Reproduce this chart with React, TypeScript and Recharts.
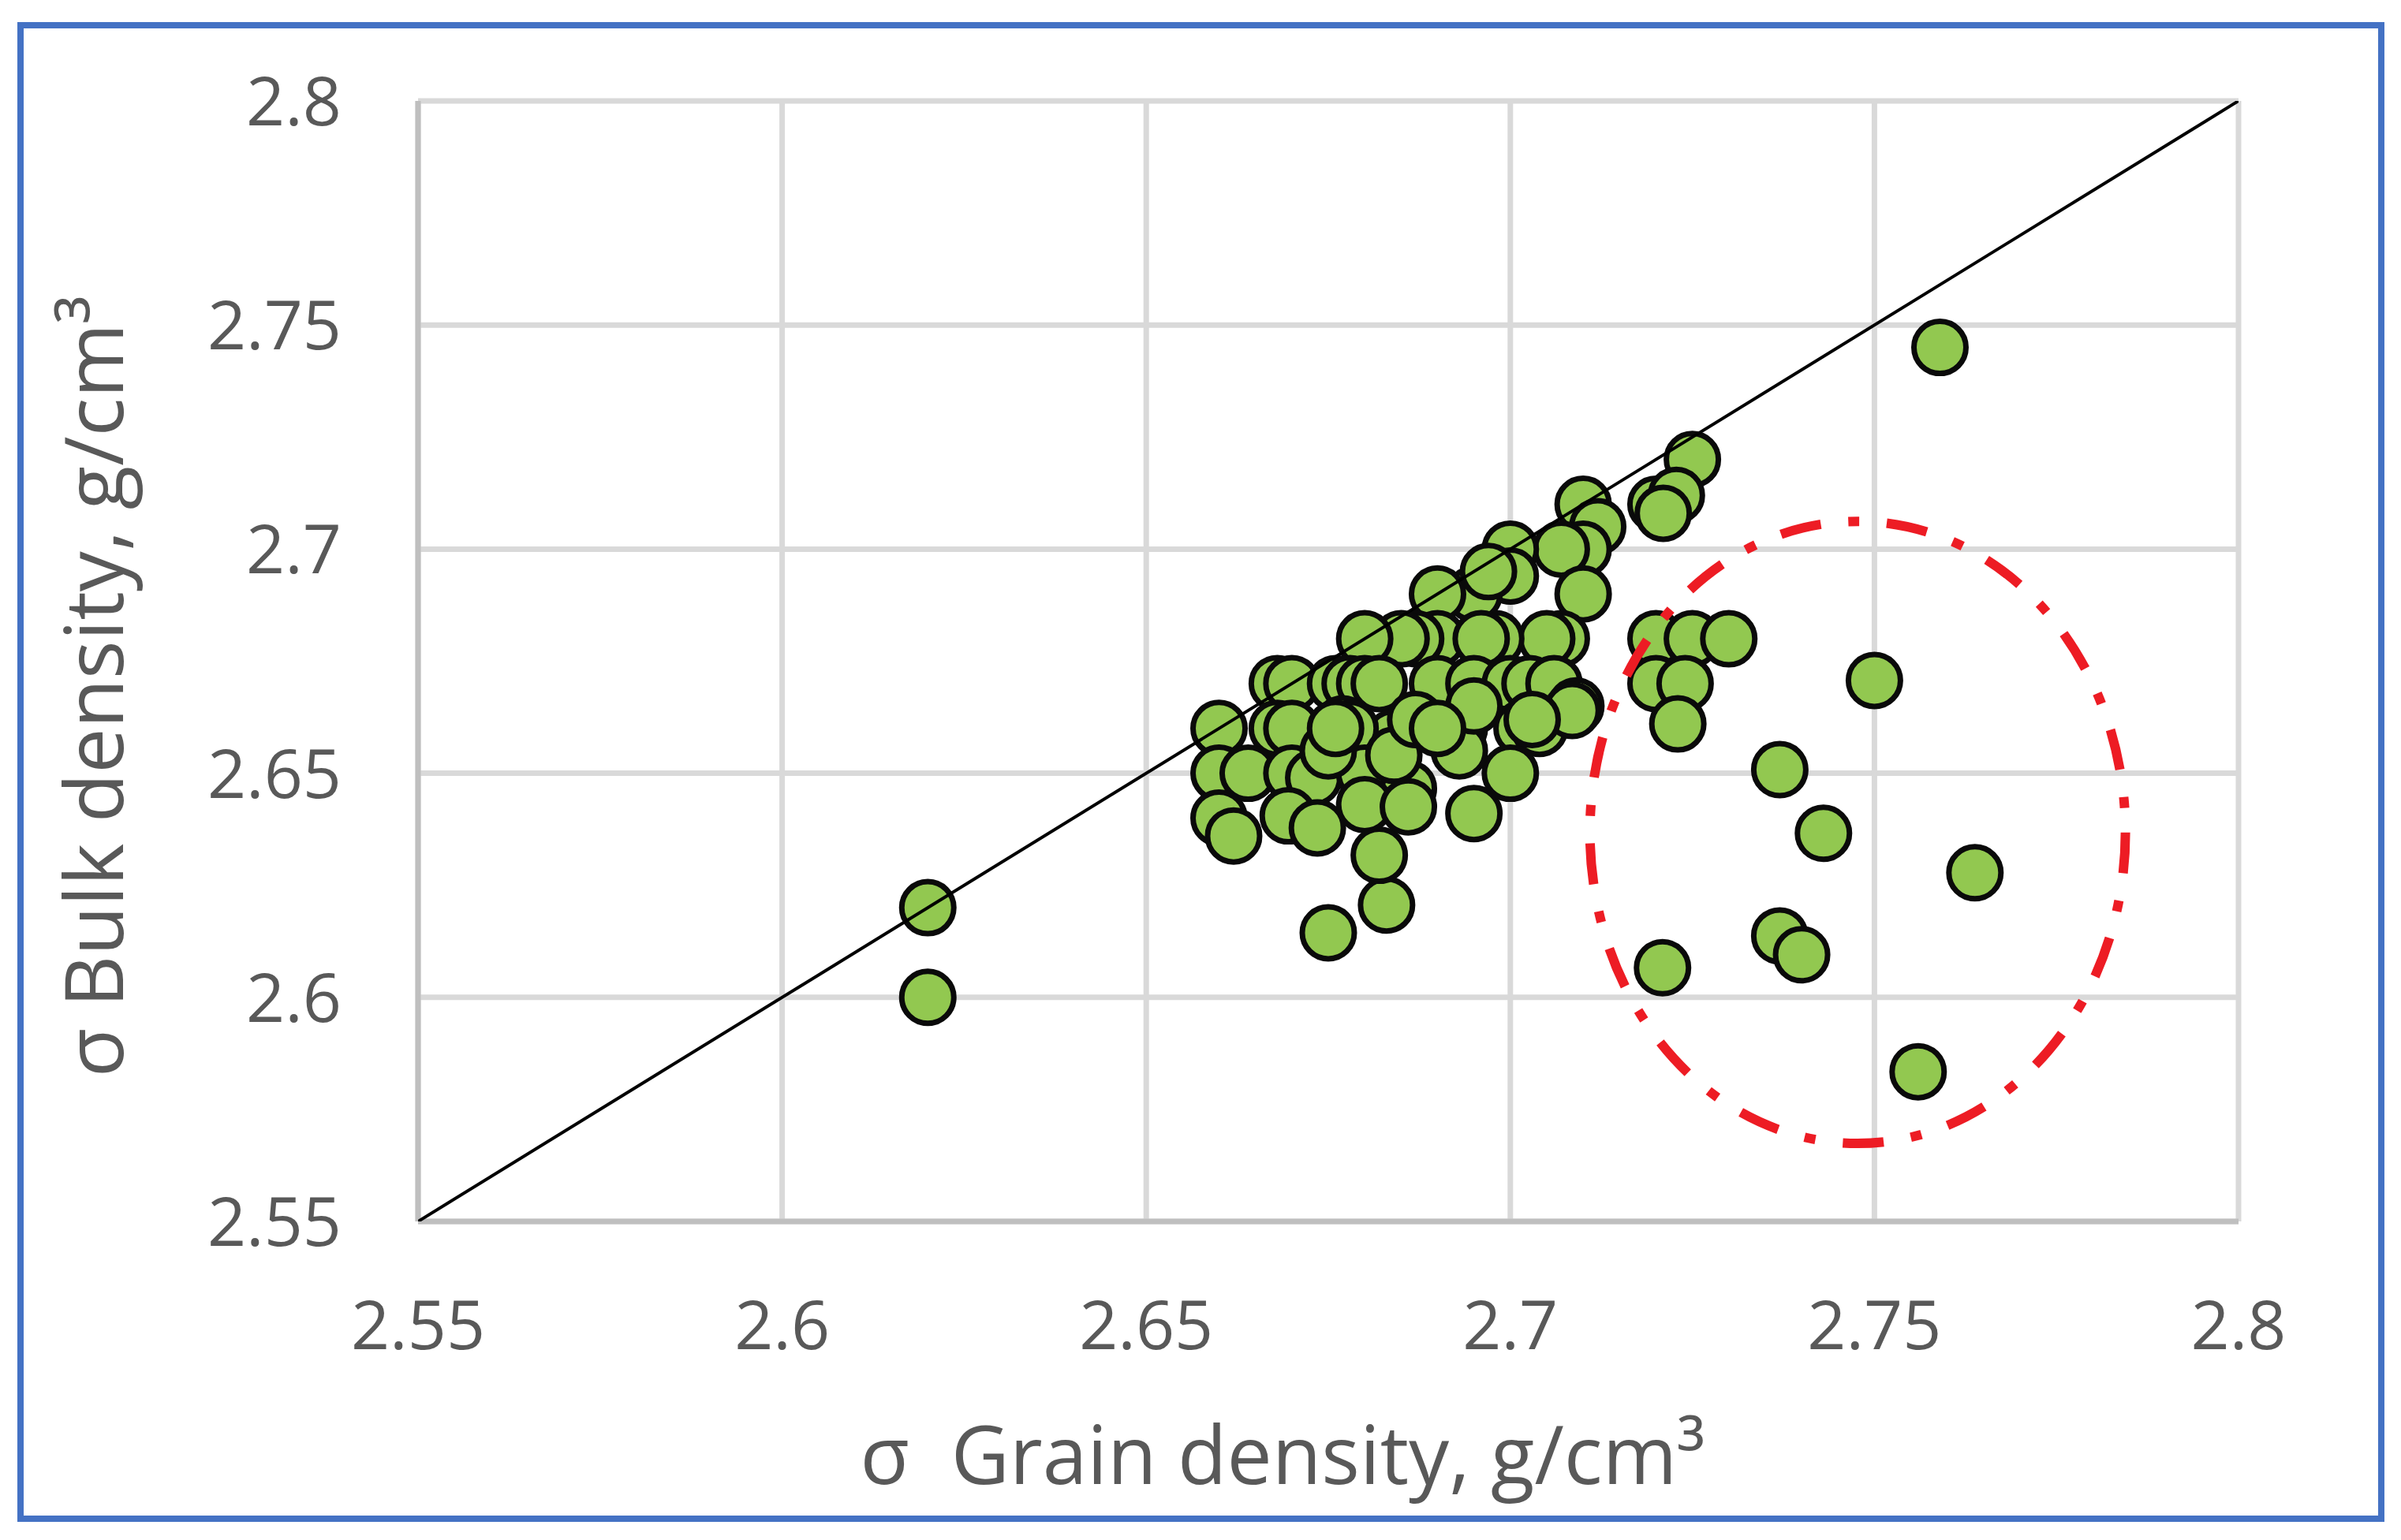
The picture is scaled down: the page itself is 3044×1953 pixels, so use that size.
import { ScatterChart, Scatter, XAxis, YAxis, CartesianGrid } from 'recharts';

// σ grain density (x) and σ bulk density (y), one entry per sample
const grainDensity = [
  2.62, 2.62, 2.675, 2.683, 2.682, 2.695, 2.759, 2.725, 2.72, 2.7228,
  2.721, 2.75, 2.737, 2.743, 2.7638, 2.737, 2.74, 2.7209, 2.756, 2.72,
  2.725, 2.73, 2.72, 2.724, 2.723, 2.71, 2.712, 2.71, 2.707, 2.7,
  2.71, 2.707, 2.705, 2.698, 2.7, 2.695, 2.69, 2.697, 2.69, 2.687,
  2.685, 2.68, 2.696, 2.69, 2.695, 2.7, 2.7027, 2.706, 2.709, 2.668,
  2.67, 2.676, 2.678, 2.68, 2.682, 2.66, 2.668, 2.67, 2.677, 2.684,
  2.693, 2.7016, 2.704, 2.678, 2.66, 2.664, 2.67, 2.673, 2.68, 2.686,
  2.684, 2.7, 2.66, 2.662, 2.6695, 2.6735, 2.68, 2.686, 2.7085, 2.703,
  2.693, 2.695, 2.687, 2.675, 2.676, 2.69,
];
const bulkDensity = [
  2.62, 2.6, 2.6144, 2.6206, 2.6317, 2.641, 2.745, 2.72, 2.71, 2.712,
  2.708, 2.6707, 2.6508, 2.6366, 2.6278, 2.6137, 2.6095, 2.6066, 2.5834, 2.68,
  2.68, 2.68, 2.67, 2.67, 2.661, 2.71, 2.705, 2.7, 2.7, 2.7,
  2.69, 2.68, 2.68, 2.68, 2.694, 2.69, 2.69, 2.695, 2.68, 2.68,
  2.68, 2.68, 2.68, 2.67, 2.67, 2.67, 2.67, 2.67, 2.665, 2.67,
  2.67, 2.67, 2.67, 2.67, 2.67, 2.66, 2.66, 2.66, 2.661, 2.658,
  2.66, 2.66, 2.66, 2.66, 2.65, 2.65, 2.65, 2.649, 2.65, 2.6466,
  2.654, 2.65, 2.64, 2.636, 2.6405, 2.6378, 2.643, 2.6425, 2.664, 2.662,
  2.655, 2.665, 2.662, 2.655, 2.66, 2.66,
];

const xTicks = [2.55, 2.6, 2.65, 2.7, 2.75, 2.8];
const yTicks = [2.55, 2.6, 2.65, 2.7, 2.75, 2.8];

// 1:1 reference line
const lineX = [2.55, 2.8];
const lineY = [2.55, 2.8];

// dash-dot ellipse around the outliers (centre and half axes in g/cm³)
const zoneX = [2.7477];
const zoneY = [2.6368];
const zoneRadiusX = 0.03677;
const zoneRadiusY = 0.0694;

const samples = grainDensity.map((x, i) => ({ x, y: bulkDensity[i] }));
const oneToOne = lineX.map((x, i) => ({ x, y: lineY[i] }));
const zone = zoneX.map((x, i) => ({ x, y: zoneY[i] }));

const W = 3044;
const H = 1953;
const PLOT_W = 2308;
const PLOT_H = 1421;
const SPAN = 0.25;
const FONT = "'Open Sans', 'Noto Sans', sans-serif";
const TEXT = '#595959';

const XTick = ({ x, y, payload }: any) => (
  <text x={x} y={y + 162} textAnchor="middle" fontSize={86} fontFamily={FONT} fill={TEXT}>
    {payload.value}
  </text>
);

const YTick = ({ x, y, payload }: any) => (
  <text x={x - 97} y={y + 31} textAnchor="end" fontSize={86} fontFamily={FONT} fill={TEXT}>
    {payload.value}
  </text>
);

const XTitle = ({ viewBox }: any) => (
  <text
    x={viewBox.x + viewBox.width / 2 - 58}
    y={viewBox.y + 333}
    textAnchor="middle"
    fontSize={102}
    fontFamily={FONT}
    fill={TEXT}
    style={{ whiteSpace: 'pre' }}
  >
    {'σ  Grain density, g/cm³'}
  </text>
);

const YTitle = ({ viewBox }: any) => {
  const cx = 156;
  const cy = viewBox.y + viewBox.height / 2 + 32;
  return (
    <text
      x={cx}
      y={cy}
      transform={`rotate(-90 ${cx} ${cy})`}
      textAnchor="middle"
      fontSize={102}
      fontFamily={FONT}
      fill={TEXT}
    >
      σ Bulk density, g/cm³
    </text>
  );
};

const Dot = (p: any) => (
  <circle cx={p.cx} cy={p.cy} r={33} fill="#92C850" stroke="#0A0A0A" strokeWidth={7} />
);

const Zone = (p: any) => (
  <ellipse
    cx={p.cx}
    cy={p.cy}
    rx={(zoneRadiusX * PLOT_W) / SPAN}
    ry={(zoneRadiusY * PLOT_H) / SPAN}
    fill="none"
    stroke="#ED1C24"
    strokeWidth={12}
    strokeDasharray="52 35 14 35"
  />
);

export default function App() {
  return (
    <div style={{ position: 'absolute', left: 0, top: 0, width: W, height: H, background: '#fff' }}>
      <div
        style={{
          position: 'absolute',
          left: 22,
          top: 28,
          width: 3001,
          height: 1902,
          border: '8px solid #4472C4',
          boxSizing: 'border-box',
        }}
      />
      <div style={{ position: 'absolute', left: 0, top: 0 }}>
        <ScatterChart width={W} height={H} margin={{ top: 128, right: 206, bottom: 204, left: 330 }}>
          <CartesianGrid stroke="#D9D9D9" strokeWidth={7} />
          <XAxis
            type="number"
            dataKey="x"
            domain={[2.55, 2.8]}
            ticks={xTicks}
            allowDataOverflow
            height={200}
            tickSize={0}
            tickMargin={0}
            tickLine={false}
            tick={<XTick />}
            axisLine={{ stroke: '#BFBFBF', strokeWidth: 7 }}
            label={<XTitle />}
          />
          <YAxis
            type="number"
            dataKey="y"
            domain={[2.55, 2.8]}
            ticks={yTicks}
            allowDataOverflow
            width={200}
            tickSize={0}
            tickMargin={0}
            tickLine={false}
            tick={<YTick />}
            axisLine={{ stroke: '#BFBFBF', strokeWidth: 7 }}
            label={<YTitle />}
          />
          <Scatter data={samples} shape={Dot} isAnimationActive={false} />
          <Scatter
            data={oneToOne}
            line={{ stroke: '#000', strokeWidth: 4 }}
            shape={() => <g />}
            isAnimationActive={false}
          />
          <Scatter data={zone} shape={Zone} isAnimationActive={false} />
        </ScatterChart>
      </div>
    </div>
  );
}
